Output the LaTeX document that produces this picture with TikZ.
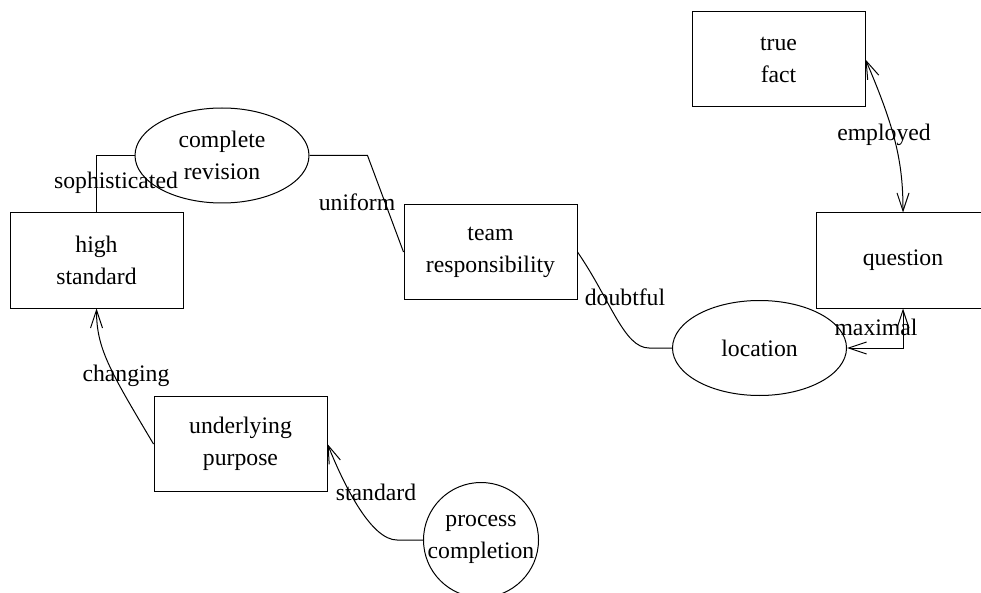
\documentclass[tikz,border=0pt]{standalone}
\usepackage{fontspec}
\setmainfont{Liberation Serif}
\usetikzlibrary{shapes.geometric,arrows.meta}
\begin{document}
\begin{tikzpicture}[x=1pt,y=-1pt,
  every node/.style={font=\fontsize{23.7pt}{32pt}\selectfont, inner sep=0pt},
  box/.style={draw, rectangle, line width=1pt, minimum width=173pt, minimum height=95pt, align=center},
  ell/.style={draw, ellipse, line width=1pt, minimum width=174pt, minimum height=95pt, align=center},
  circ/.style={draw, circle, line width=1pt, minimum size=115pt},
  txt/.style={align=center},
  lbl/.style={},
  conn/.style={line width=1pt},
  tip/.tip={Straight Barb[length=18pt,width=12pt,line width=1pt]}
]
\useasboundingbox (0,0) rectangle (981,593);
% nodes
\node[box] (tf) at (778.5,59.5) {true\\fact};
\node[box] (q) at (903,260.5) {question};
\node[box] (hs) at (96.5,260.5) {high\\standard};
\node[box] (tr) at (490.5,252) {team\\responsibility};
\node[box] (up) at (240.5,444) {underlying\\purpose};
\node[ell] (cr) at (222,155.5) {complete\\revision};
\node[ell] (loc) at (759.5,348) {location};
\node[circ] (pc) at (481,540) {};
\node[txt] (pctext) at (481,539) {process\\completion};
% connectors
\draw[conn] (hs.north) |- (cr.west);
\draw[conn] (cr.east) -- ++(58,0) -- (tr.west);
\draw[conn] (tr.east) .. controls +(33,48) and +(-25,0) .. ([xshift=-23pt]loc.west) -- (loc.west);
\draw[conn, tip-tip] (q.south) |- (loc.east);
\draw[conn, tip-tip] (tf.east) .. controls +(30,70) and +(0,-50) .. (q.north);
\draw[conn, -tip] (up.west) .. controls +(-44,-74) and +(0,40) .. (hs.south);
\draw[conn, -tip] (pc.west) -- ++(-26,0) .. controls +(-25,0) and +(18,45) .. (up.east);
% labels
\node[lbl] (l1) at (116,183) {sophisticated};
\node[lbl] (l2) at (357,202) {uniform};
\node[lbl] (l3) at (625,297) {doubtful};
\node[lbl] (l4) at (876,327) {maximal};
\node[lbl] (l5) at (884,135) {employed};
\node[lbl] (l6) at (126,376) {changing};
\node[lbl] (l7) at (376,492) {standard};
\end{tikzpicture}
\end{document}
